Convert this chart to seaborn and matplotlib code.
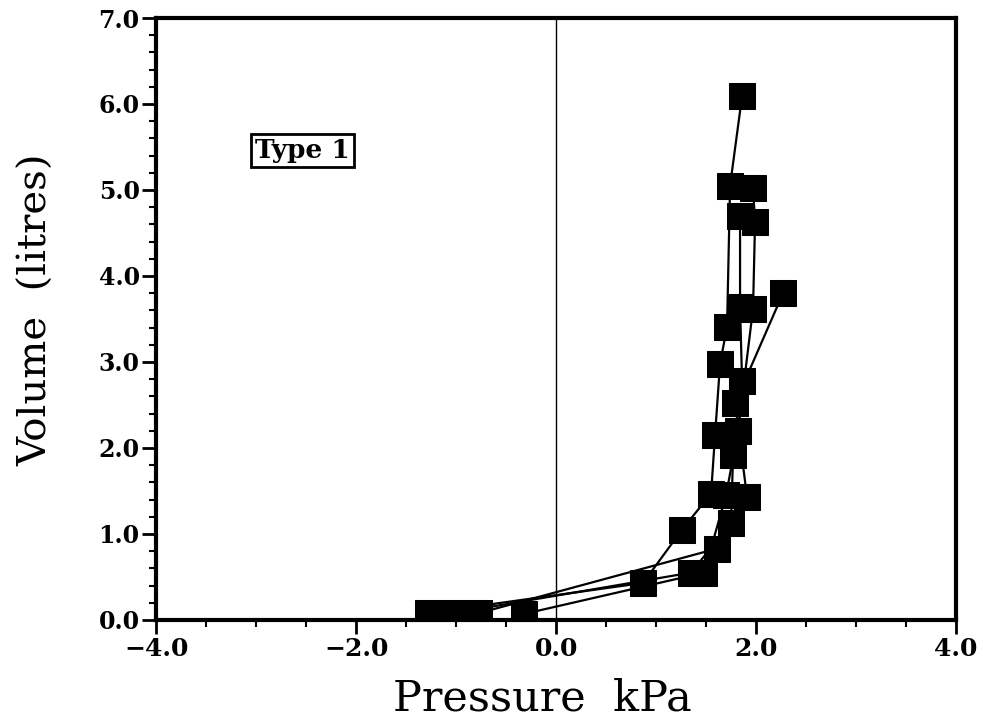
import numpy as np
import pandas as pd
import matplotlib
matplotlib.use("Agg")
import matplotlib.pyplot as plt
from matplotlib.ticker import MultipleLocator
import seaborn as sns

# Pressure (kPa) and volume (litres) for each inflation run
run_a_pressure = [-1.28, 0.87, 1.26, 1.55, 1.59, 1.64, 1.71, 1.74, 1.86]
run_a_volume = [0.08, 0.43, 1.05, 1.47, 2.15, 2.98, 3.41, 5.05, 6.09]

run_b_pressure = [-1.02, 1.35, 1.75, 1.77, 1.86, 1.84, 1.84]
run_b_volume = [0.08, 0.55, 1.13, 1.92, 2.78, 3.64, 4.70]

run_c_pressure = [-0.77, 1.61, 1.91, 1.79, 2.27]
run_c_volume = [0.08, 0.83, 1.43, 2.52, 3.80]

run_d_pressure = [-0.32, 1.48, 1.70, 1.82, 1.97, 1.99, 1.97]
run_d_volume = [0.07, 0.55, 1.45, 2.20, 3.62, 4.63, 5.02]

x_ticks = [-4.0, -2.0, 0.0, 2.0, 4.0]
y_ticks = [0.0, 1.0, 2.0, 3.0, 4.0, 5.0, 6.0, 7.0]

frames = []
for name, p, v in [("A", run_a_pressure, run_a_volume),
                   ("B", run_b_pressure, run_b_volume),
                   ("C", run_c_pressure, run_c_volume),
                   ("D", run_d_pressure, run_d_volume)]:
    frames.append(pd.DataFrame({"run": name, "pressure": p, "volume": v,
                                "order": range(len(p))}))
df = pd.concat(frames, ignore_index=True)

sns.set_theme(style="ticks")
plt.rcParams["font.family"] = ["DejaVu Serif"]
plt.rcParams["text.color"] = "black"
plt.rcParams["axes.labelcolor"] = "black"
plt.rcParams["xtick.color"] = "black"
plt.rcParams["ytick.color"] = "black"

fig = plt.figure(figsize=(9.83, 7.20), dpi=100)
ax = fig.add_axes([0.159, 0.139, 0.8135, 0.836])

ax.axvline(0.0, color="black", linewidth=1.0, zorder=1)

sns.lineplot(data=df, x="pressure", y="volume", units="run", estimator=None,
             sort=False, color="black", linewidth=1.6, marker="s",
             markersize=19, markeredgecolor="black", markerfacecolor="black",
             ax=ax, legend=False, zorder=3)

ax.set_xlim(-4.0, 4.0)
ax.set_ylim(0.0, 7.0)
ax.set_xticks(x_ticks)
ax.set_yticks(y_ticks)
ax.set_xticklabels([f"{t:.1f}".replace("-", "\u2212") for t in x_ticks],
                   fontsize=18, fontweight="bold", color="black")
ax.set_yticklabels([f"{t:.1f}" for t in y_ticks], fontsize=17,
                   fontweight="bold", color="black")
ax.xaxis.set_minor_locator(MultipleLocator(0.5))
ax.yaxis.set_minor_locator(MultipleLocator(0.2))
ax.tick_params(axis="both", which="major", direction="out", length=10,
               width=2, color="black", pad=2)
ax.tick_params(axis="both", which="minor", direction="out", length=5,
               width=1.5, color="black")
ax.tick_params(axis="x", which="both", top=False)
ax.tick_params(axis="y", which="both", right=False)

for side in ["left", "right", "top", "bottom"]:
    ax.spines[side].set_visible(True)
    ax.spines[side].set_linewidth(3)
    ax.spines[side].set_color("black")

ax.set_xlabel("Pressure  kPa", fontsize=31, color="black")
ax.set_ylabel("Volume  (litres)", fontsize=29, color="black")
ax.xaxis.set_label_coords(0.483, -0.095)
ax.yaxis.set_label_coords(-0.127, 0.515)

ax.text(0.1825, 0.78, "Type 1", transform=ax.transAxes, fontsize=19,
        fontweight="bold", ha="center", va="center", color="black",
        bbox=dict(boxstyle="square,pad=0.15", facecolor="white",
                  edgecolor="black", linewidth=2))

ax.set_facecolor("white")
fig.patch.set_facecolor("white")
fig.savefig("out.png", dpi=100)
